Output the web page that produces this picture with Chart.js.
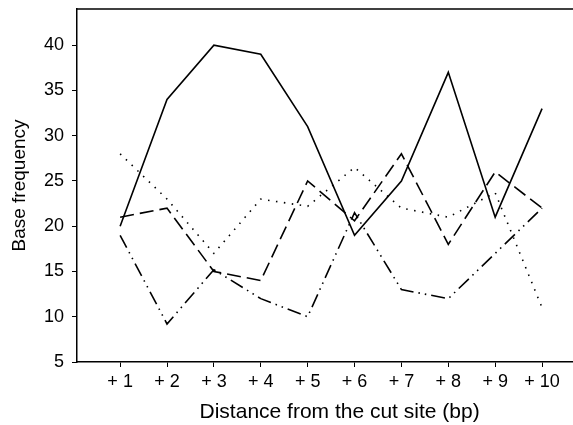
<!DOCTYPE html>
<html>
<head>
<meta charset="utf-8">
<script src="https://cdn.jsdelivr.net/npm/chart.js@4.4.1/dist/chart.umd.min.js"></script>
<style>
  html, body { margin: 0; padding: 0; background: #fff; }
  #wrap { width: 573px; height: 425px; }
</style>
</head>
<body>
<div id="wrap"><canvas id="baseChart" width="573" height="425"></canvas></div>
<script>
const positions = [1, 2, 3, 4, 5, 6, 7, 8, 9, 10];
const solidSeries = [20, 34, 40, 39, 31, 19, 25, 37, 21, 33];
const dashedSeries = [21, 22, 15, 14, 25, 20.6, 28, 18, 26, 22];
const dottedSeries = [28, 23, 17, 23, 22.2, 26.5, 22, 21, 23.7, 11];
const dashDotSeries = [19, 9.2, 15.2, 12, 10, 21.5, 13, 12, 17, 22];
const yTicks = [5, 10, 15, 20, 25, 30, 35, 40];

const toPoints = (vals) => vals.map((v, i) => ({ x: positions[i], y: v }));

const lineStyle = (data, dash) => ({
  data: toPoints(data),
  borderColor: '#000',
  borderWidth: 1.6,
  borderDash: dash,
  pointRadius: 0,
  tension: 0,
  fill: false
});

// top frame line of the plot box
const topBorder = {
  id: 'topBorder',
  afterDraw(chart) {
    const { ctx, chartArea } = chart;
    ctx.save();
    ctx.strokeStyle = '#000';
    ctx.lineWidth = 1.5;
    ctx.beginPath();
    ctx.moveTo(chartArea.left, chartArea.top);
    ctx.lineTo(chartArea.right, chartArea.top);
    ctx.stroke();
    ctx.restore();
  }
};

const tickFont = { family: 'Liberation Sans, Arial, sans-serif', size: 18 };
const titleFont = { family: 'Liberation Sans, Arial, sans-serif', size: 19 };

new Chart(document.getElementById('baseChart').getContext('2d'), {
  type: 'line',
  data: {
    datasets: [
      lineStyle(solidSeries, []),
      lineStyle(dashedSeries, [14, 6]),
      lineStyle(dottedSeries, [1.5, 6.5]),
      lineStyle(dashDotSeries, [14, 5, 1.5, 5, 1.5, 5])
    ]
  },
  options: {
    responsive: false,
    animation: false,
    layout: { padding: { top: 9, right: 0, left: 0, bottom: 0 } },
    plugins: {
      legend: { display: false },
      tooltip: { enabled: false }
    },
    scales: {
      x: {
        type: 'linear',
        min: 0.08,
        max: 10.66,
        afterBuildTicks: (axis) => { axis.ticks = positions.map(v => ({ value: v })); },
        afterFit: (axis) => { axis.height = 63; axis.paddingLeft = 0; axis.paddingRight = 0; },
        ticks: {
          color: '#000',
          font: tickFont,
          padding: 4,
          maxRotation: 0,
          callback: (v) => '+ ' + v
        },
        grid: { drawOnChartArea: false, drawTicks: true, tickLength: 5, color: '#000' },
        border: { color: '#000', width: 1.5 },
        title: {
          display: true,
          text: '     Distance from the cut site (bp)',
          color: '#000',
          font: { family: 'Liberation Sans, Arial, sans-serif', size: 21 },
          padding: { top: 3, bottom: 0 }
        }
      },
      y: {
        min: 5,
        max: 44,
        afterBuildTicks: (axis) => { axis.ticks = yTicks.map(v => ({ value: v })); },
        afterFit: (axis) => { axis.width = 77; axis.paddingTop = 0; axis.paddingBottom = 0; },
        ticks: { color: '#000', font: tickFont, padding: 8 },
        grid: { drawOnChartArea: false, drawTicks: true, tickLength: 5, color: '#000' },
        border: { color: '#000', width: 1.5 },
        title: {
          display: true,
          text: 'Base frequency',
          color: '#000',
          font: titleFont,
          padding: { top: 8, bottom: 0 }
        }
      }
    }
  },
  plugins: [topBorder]
});
</script>
</body>
</html>
